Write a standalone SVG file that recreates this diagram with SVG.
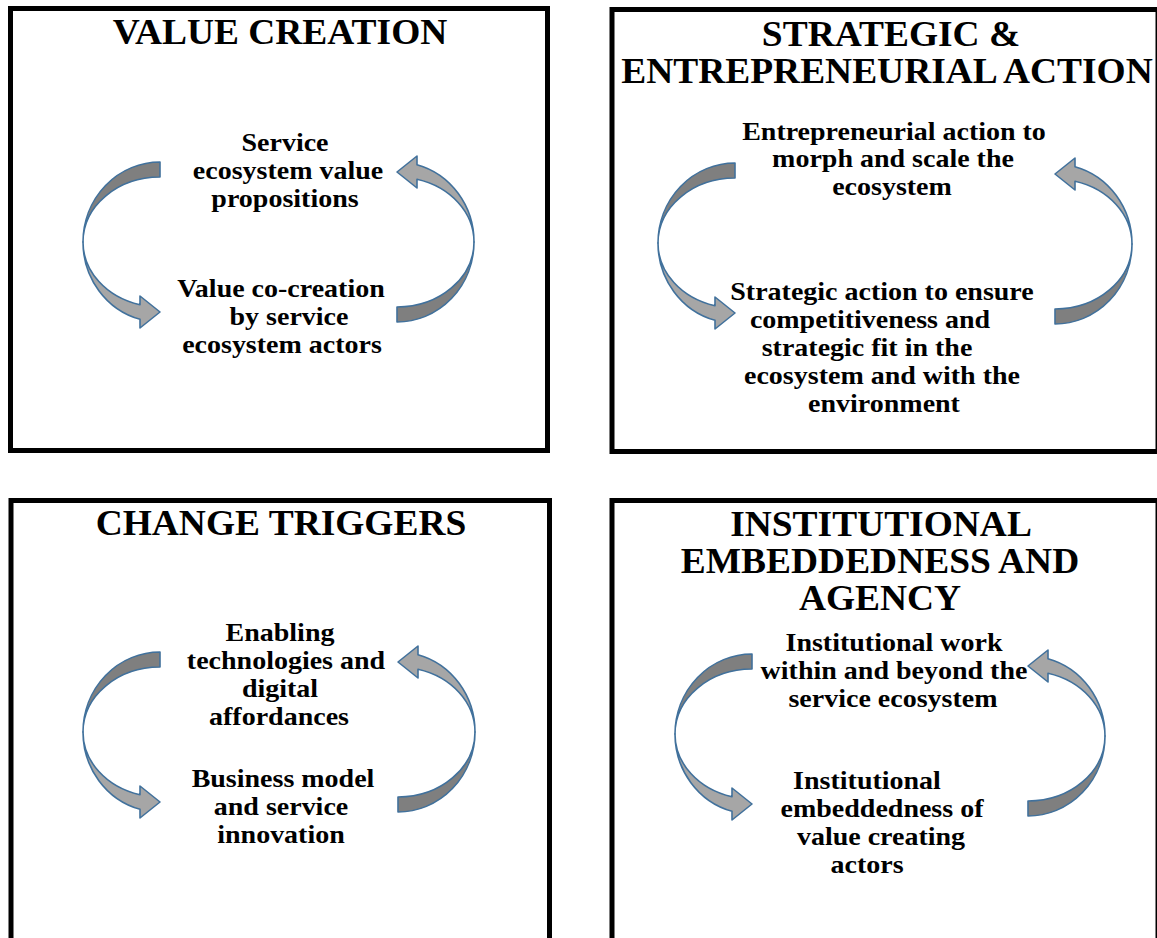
<svg xmlns="http://www.w3.org/2000/svg" xmlns:xlink="http://www.w3.org/1999/xlink" width="1157" height="938" viewBox="0 0 1157 938">
<style>
.box{fill:#fff;stroke:#000;stroke-width:5}
.title{font-family:"Liberation Serif","Times New Roman",serif;font-weight:bold;font-size:35px;fill:#000;text-anchor:middle}
.body{font-family:"Liberation Serif","Times New Roman",serif;font-weight:bold;font-size:25px;fill:#000;text-anchor:middle}
.dark{fill:#7f7f7f;stroke:#41719c;stroke-width:1.6;stroke-linejoin:round}
.light{fill:#a6a6a6;stroke:#41719c;stroke-width:1.6;stroke-linejoin:round}
</style>
<defs>
<g id="curl">
<path class="dark" d="M0,-80 A77,80 0 0 0 -77,0 A77,65 0 0 1 0,-65 Z"/>
<path class="light" d="M-77,0 A77,80 0 0 0 -20,77.3 L-20,86 L0,70 L-20,54 L-20,62.8 A77,65 0 0 1 -77,0 Z"/>
</g>
</defs>
<rect width="1157" height="938" fill="#fff"/>
<g id="box-value-creation">
<rect class="box" x="10.5" y="8.5" width="537" height="442"/>
<text class="title" transform="translate(280,44) scale(1.07,1)">VALUE CREATION</text>
</g>
<g id="box-strategic">
<rect class="box" x="612" y="9.5" width="546" height="442"/>
<text class="title" transform="translate(891,46) scale(1.07,1)">STRATEGIC &amp;</text>
<text class="title" transform="translate(887,83) scale(1.07,1)">ENTREPRENEURIAL ACTION</text>
</g>
<g id="box-change-triggers">
<rect class="box" x="11" y="500.5" width="538.5" height="460"/>
<text class="title" transform="translate(281,535) scale(1.07,1)">CHANGE TRIGGERS</text>
</g>
<g id="box-institutional">
<rect class="box" x="612" y="500.5" width="546" height="460"/>
<text class="title" transform="translate(881,536) scale(1.07,1)">INSTITUTIONAL</text>
<text class="title" transform="translate(880,573) scale(1.07,1)">EMBEDDEDNESS AND</text>
<text class="title" transform="translate(880,610) scale(1.07,1)">AGENCY</text>
</g>
<g id="node-vc-propositions">
<text class="body" transform="translate(285,151) scale(1.12,1)">Service</text>
<text class="body" transform="translate(288,179) scale(1.12,1)">ecosystem value</text>
<text class="body" transform="translate(285,207) scale(1.12,1)">propositions</text>
</g>
<g id="node-vc-cocreation">
<text class="body" transform="translate(281,297) scale(1.12,1)">Value co-creation</text>
<text class="body" transform="translate(289,325) scale(1.12,1)">by service</text>
<text class="body" transform="translate(282,353) scale(1.12,1)">ecosystem actors</text>
</g>
<g id="node-entrepreneurial">
<text class="body" transform="translate(894,140) scale(1.12,1)">Entrepreneurial action to</text>
<text class="body" transform="translate(893,167) scale(1.12,1)">morph and scale the</text>
<text class="body" transform="translate(892,195) scale(1.12,1)">ecosystem</text>
</g>
<g id="node-strategic">
<text class="body" transform="translate(882,300) scale(1.12,1)">Strategic action to ensure</text>
<text class="body" transform="translate(870,328) scale(1.12,1)">competitiveness and</text>
<text class="body" transform="translate(867,356) scale(1.12,1)">strategic fit in the</text>
<text class="body" transform="translate(882,384) scale(1.12,1)">ecosystem and with the</text>
<text class="body" transform="translate(884,412) scale(1.12,1)">environment</text>
</g>
<g id="node-enabling">
<text class="body" transform="translate(280,641) scale(1.12,1)">Enabling</text>
<text class="body" transform="translate(286,669) scale(1.12,1)">technologies and</text>
<text class="body" transform="translate(280,697) scale(1.12,1)">digital</text>
<text class="body" transform="translate(279,725) scale(1.12,1)">affordances</text>
</g>
<g id="node-business-model">
<text class="body" transform="translate(283,787) scale(1.12,1)">Business model</text>
<text class="body" transform="translate(281,815) scale(1.12,1)">and service</text>
<text class="body" transform="translate(281,843) scale(1.12,1)">innovation</text>
</g>
<g id="node-institutional-work">
<text class="body" transform="translate(894,651) scale(1.12,1)">Institutional work</text>
<text class="body" transform="translate(894,679) scale(1.12,1)">within and beyond the</text>
<text class="body" transform="translate(893,707) scale(1.12,1)">service ecosystem</text>
</g>
<g id="node-embeddedness">
<text class="body" transform="translate(867,789) scale(1.12,1)">Institutional</text>
<text class="body" transform="translate(882,817) scale(1.12,1)">embeddedness of</text>
<text class="body" transform="translate(881,845) scale(1.12,1)">value creating</text>
<text class="body" transform="translate(867,873) scale(1.12,1)">actors</text>
</g>
<g id="connectors">
<use xlink:href="#curl" transform="translate(160,242)"/>
<use xlink:href="#curl" transform="translate(397,242) rotate(180)"/>
<use xlink:href="#curl" transform="translate(735,243)"/>
<use xlink:href="#curl" transform="translate(1055,244) rotate(180)"/>
<use xlink:href="#curl" transform="translate(160,732)"/>
<use xlink:href="#curl" transform="translate(398,732) rotate(180)"/>
<use xlink:href="#curl" transform="translate(752,734)"/>
<use xlink:href="#curl" transform="translate(1028,736) rotate(180)"/>
</g>
</svg>
